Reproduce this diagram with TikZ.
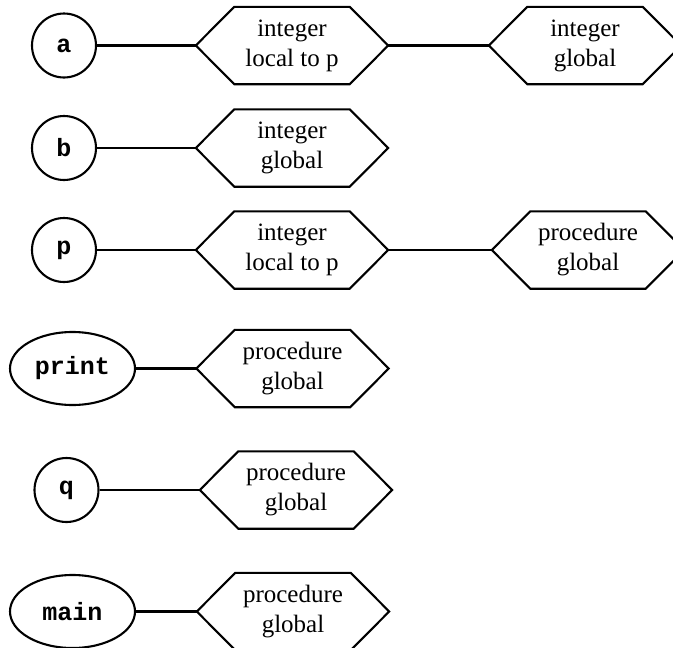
\documentclass[tikz,border=0pt]{standalone}
\usepackage{fontspec}
\setmainfont{Liberation Serif}
\newfontfamily\codefont{Liberation Mono}
\usetikzlibrary{shapes.geometric}
\begin{document}
\begin{tikzpicture}[x=1pt,y=1pt,
  lw/.style={line width=2.1pt},
  namecirc/.style={circle,draw,lw,minimum size=64pt,inner sep=0pt,font=\codefont\bfseries\fontsize{25}{30}\selectfont},
  nameell/.style={ellipse,draw,lw,minimum width=125pt,minimum height=73pt,inner sep=0pt,font=\codefont\bfseries\fontsize{25}{30}\selectfont},
  hexbox/.style={rectangle,minimum width=192pt,minimum height=77pt,inner sep=0pt,align=center,font=\fontsize{25}{30}\selectfont},
  link/.style={lw}]
\useasboundingbox (0,0) rectangle (673,-648);
\clip (0,0) rectangle (673,-648);
% name nodes
\node[namecirc] (a) at (64,-45.5) {a};
\node[namecirc] (b) at (64,-148) {b};
\node[namecirc] (p) at (64,-250) {p};
\node[nameell] (print) at (72.5,-368.5) {print};
\node[namecirc] (q) at (66.5,-490) {q};
\node[nameell] (main) at (72.5,-611.5) {main};
% attribute nodes
\node[hexbox] (ha1) at (292,-45.5) {integer\\local to p};
\node[hexbox] (ha2) at (585,-45.5) {integer\\global};
\node[hexbox] (hb) at (292,-148) {integer\\global};
\node[hexbox] (hp1) at (292,-250) {integer\\local to p};
\node[hexbox] (hp2) at (588,-250) {procedure\\global};
\node[hexbox] (hpr) at (292.5,-368.5) {procedure\\global};
\node[hexbox] (hq) at (296,-490) {procedure\\global};
\node[hexbox] (hm) at (293,-611.5) {procedure\\global};
% hexagon outlines
\foreach \n in {ha1,ha2,hb,hp1,hp2,hpr,hq,hm}{
  \draw[lw,line join=miter] ([xshift=38.5pt]\n.north west) -- ([xshift=-38.5pt]\n.north east) -- (\n.east)
    -- ([xshift=-38.5pt]\n.south east) -- ([xshift=38.5pt]\n.south west) -- (\n.west) -- cycle;
}
% connectors
\draw[link] (a) -- (ha1.west);
\draw[link] (ha1.east) -- (ha2.west);
\draw[link] (b) -- (hb.west);
\draw[link] (p) -- (hp1.west);
\draw[link] (hp1.east) -- (hp2.west);
\draw[link] (print) -- (hpr.west);
\draw[link] (q) -- (hq.west);
\draw[link] (main) -- (hm.west);
\end{tikzpicture}
\end{document}
